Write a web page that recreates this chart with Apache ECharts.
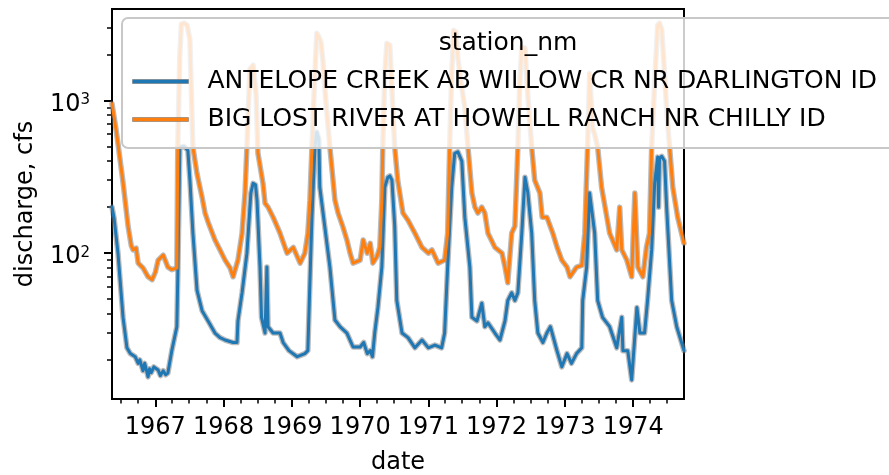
<!DOCTYPE html>
<html>
<head>
<meta charset="utf-8">
<script src="https://cdn.jsdelivr.net/npm/echarts@6/dist/echarts.min.js"></script>
<style>
  html, body { margin: 0; padding: 0; background: #ffffff; }
  #chart { width: 889px; height: 475px; }
</style>
</head>
<body>
<div id="chart"></div>
<script>
// Daily discharge at two Idaho gauging stations, 1966-1974 (log scale)
const FONT = 'DejaVu Sans';

const stationNames = [
  'ANTELOPE CREEK AB WILLOW CR NR DARLINGTON ID',
  'BIG LOST RIVER AT HOWELL RANCH NR CHILLY ID'
];

const antelopeDates = [
  '1966-05-14','1966-05-25','1966-06-15','1966-07-12','1966-08-02','1966-08-20','1966-09-15','1966-10-01',
  '1966-10-10','1966-10-27','1966-11-05','1966-11-10','1966-11-23','1966-12-01','1966-12-10','1966-12-24',
  '1967-01-16','1967-01-28','1967-02-12','1967-02-25','1967-03-09','1967-03-30','1967-04-26','1967-05-01',
  '1967-05-12','1967-06-03','1967-06-24','1967-07-05','1967-07-21','1967-08-12','1967-09-08','1967-10-10',
  '1967-11-16','1967-12-13','1968-01-09','1968-02-21','1968-03-13','1968-03-18','1968-04-09','1968-05-05',
  '1968-05-26','1968-06-07','1968-06-20','1968-06-28','1968-07-14','1968-07-22','1968-08-10','1968-08-20',
  '1968-08-26','1968-09-22','1968-10-29','1968-11-15','1968-12-16','1969-01-29','1969-03-11','1969-03-27',
  '1969-04-07','1969-04-18','1969-05-04','1969-05-14','1969-05-25','1969-05-30','1969-06-26','1969-07-23',
  '1969-08-19','1969-09-15','1969-10-22','1969-11-24','1970-01-01','1970-01-20','1970-02-08','1970-02-24',
  '1970-03-08','1970-03-20','1970-04-06','1970-04-27','1970-05-13','1970-05-29','1970-06-09','1970-06-20',
  '1970-07-05','1970-07-16','1970-08-13','1970-09-14','1970-10-21','1970-11-28','1971-01-01','1971-02-05',
  '1971-03-13','1971-03-29','1971-04-14','1971-05-06','1971-05-22','1971-06-08','1971-06-29','1971-07-15',
  '1971-08-11','1971-08-22','1971-09-18','1971-10-14','1971-10-30','1971-11-16','1971-12-23','1972-01-19',
  '1972-02-15','1972-03-01','1972-03-22','1972-04-08','1972-04-24','1972-05-15','1972-06-01','1972-06-16',
  '1972-07-07','1972-07-23','1972-08-09','1972-09-05','1972-09-26','1972-10-15','1972-11-19','1972-12-15',
  '1973-01-12','1973-02-05','1973-03-04','1973-04-01','1973-04-06','1973-04-27','1973-05-13','1973-05-20',
  '1973-06-09','1973-06-25','1973-07-21','1973-08-28','1973-10-05','1973-11-01','1973-11-07','1973-12-03',
  '1973-12-24','1974-01-21','1974-02-06','1974-03-03','1974-03-19','1974-04-10','1974-04-26','1974-05-12',
  '1974-05-17','1974-05-22','1974-06-03','1974-06-18','1974-06-29','1974-07-26','1974-08-22','1974-09-30'
];
const antelopeCfs = [
  200,170,100,38,24,22,21,19,
  20,17,19,18,15.5,17.5,16.5,18,
  17.2,15.8,17,16,16.4,23,33,70,
  494,500,470,300,135,57,42,36,
  30,28,27,26,26,36,55,100,
  247,286,280,222,81,38,30,81,
  33,30,30,26,23,21,22,23,
  64,172,494,620,560,270,148,81,
  36.5,33,30,24.3,24.3,26,22,23,
  21,30,44,81,270,314,320,300,
  150,49,30,28,24,27,24,25,
  24,30,81,270,450,460,400,172,
  81,38,36,47,33,35,30,27,
  36,49,55,49,55,135,314,250,
  135,49,30,26,30,33,23,18,
  22,19,22,24,49,81,247,250,
  135,49,38,33,24,38,23,23,
  14.8,44,30,30,49,105,286,425,
  200,420,430,400,200,49,33,23
];

const bigLostDates = [
  '1966-05-14','1966-05-25','1966-06-05','1966-06-15','1966-07-12','1966-08-08','1966-08-25','1966-09-04',
  '1966-09-20','1966-10-01','1966-10-27','1966-11-23','1966-12-15','1967-01-01','1967-01-16','1967-02-12',
  '1967-03-09','1967-03-30','1967-04-26','1967-05-01','1967-05-12','1967-05-20','1967-06-05','1967-06-20',
  '1967-07-05','1967-07-14','1967-07-21','1967-08-12','1967-09-08','1967-09-24','1967-10-10','1967-11-16',
  '1967-12-13','1968-01-09','1968-02-05','1968-02-21','1968-03-18','1968-04-09','1968-04-25','1968-05-05',
  '1968-05-21','1968-06-07','1968-06-23','1968-07-03','1968-07-30','1968-08-10','1968-08-26','1968-09-22',
  '1968-10-29','1968-12-06','1969-01-08','1969-01-29','1969-02-14','1969-03-11','1969-03-27','1969-04-07',
  '1969-04-18','1969-05-04','1969-05-14','1969-05-25','1969-06-05','1969-06-16','1969-06-26','1969-07-08',
  '1969-07-23','1969-08-19','1969-09-05','1969-10-01','1969-10-22','1969-11-08','1969-11-24','1970-01-01',
  '1970-01-17','1970-02-08','1970-02-24','1970-03-10','1970-03-20','1970-04-01','1970-04-16','1970-04-27',
  '1970-05-02','1970-05-13','1970-05-24','1970-06-09','1970-06-20','1970-07-05','1970-07-21','1970-08-18',
  '1970-09-14','1970-10-21','1970-11-28','1971-01-01','1971-01-20','1971-02-22','1971-03-29','1971-04-14',
  '1971-04-25','1971-05-06','1971-05-17','1971-05-28','1971-06-08','1971-06-25','1971-07-15','1971-08-01',
  '1971-08-22','1971-09-07','1971-09-23','1971-10-14','1971-10-30','1971-11-16','1971-12-23','1972-01-30',
  '1972-02-15','1972-03-01','1972-03-22','1972-04-08','1972-04-24','1972-05-04','1972-05-15','1972-06-01',
  '1972-06-16','1972-07-07','1972-07-23','1972-08-20','1972-09-01','1972-09-26','1972-10-28','1972-11-19',
  '1972-12-15','1973-01-12','1973-01-28','1973-03-04','1973-04-01','1973-04-17','1973-05-02','1973-05-13',
  '1973-05-29','1973-06-09','1973-06-25','1973-07-16','1973-08-13','1973-08-28','1973-10-05','1973-10-21',
  '1973-11-01','1973-11-28','1973-12-24','1974-01-10','1974-01-26','1974-02-22','1974-03-13','1974-03-29',
  '1974-04-10','1974-04-26','1974-05-12','1974-05-22','1974-06-03','1974-06-18','1974-07-01','1974-07-15',
  '1974-08-01','1974-08-27','1974-09-30'
];
const bigLostCfs = [
  950,780,640,520,290,150,112,105,
  108,86,80,70,67,75,90,97,
  81,78,80,494,2000,3150,3200,3100,
  2500,1000,494,330,232,183,160,122,
  105,90,80,70,90,135,250,494,
  1600,1700,1100,450,286,212,200,172,
  135,100,109,95,86,100,135,222,
  494,1500,2750,2600,2400,1800,1200,800,
  494,222,183,148,122,100,86,90,
  122,100,116,86,86,95,109,222,
  494,1500,2360,2300,1200,494,300,183,
  164,135,109,100,105,86,90,135,
  494,1500,2870,2800,1900,1300,900,494,
  247,200,183,200,183,135,109,100,
  81,64,135,150,494,1300,2230,2200,
  1100,494,300,247,172,172,135,110,
  90,81,70,81,83,135,494,1500,
  660,600,494,270,172,135,105,200,
  105,90,70,247,81,70,109,135,
  494,1300,3100,3200,2900,1500,800,494,
  270,172,116
];

// Tick positions
const yearTicks = ['1967-01-01','1968-01-01','1969-01-01','1970-01-01',
                   '1971-01-01','1972-01-01','1973-01-01','1974-01-01'];
const decadeTicks = [100, 1000];

const quarterTicks = [];
for (let y = 1966; y <= 1974; y++) {
  ['01','04','07','10'].forEach(m => quarterTicks.push(y + '-' + m + '-01'));
}
const logMinorTicks = [];
[10, 100, 1000].forEach(base => {
  for (let k = 2; k <= 9; k++) logMinorTicks.push(k * base);
});

const ms = s => Date.parse(s + 'T00:00:00Z');
const X_MIN = ms('1966-05-14');
const X_MAX = ms('1974-09-30');
const Y_MIN = 11.1;
const Y_MAX = 3960;

const pair = (dates, vals) => dates.map((d, i) => [ms(d), vals[i]]);
const antelope = pair(antelopeDates, antelopeCfs);
const bigLost = pair(bigLostDates, bigLostCfs);

const HALO = 'rgba(120,120,120,0.5)';
function lineSeries(name, data, color, width) {
  return {
    type: 'line', name, data,
    xAxisIndex: 0, yAxisIndex: 0,
    showSymbol: false, symbol: 'none',
    lineStyle: { color, width, cap: 'round', join: 'round' },
    itemStyle: { color },
    emphasis: { disabled: true },
    silent: true,
    animation: false
  };
}

const txt = { fontFamily: FONT, fontSize: 24, color: '#000' };

const chart = echarts.init(document.getElementById('chart'), null, { renderer: 'canvas' });
chart.setOption({
  animation: false,
  backgroundColor: '#ffffff',
  grid: {
    left: 112, right: 205, top: 9, bottom: 76,
    containLabel: false, outerBoundsMode: 'none',
    show: true, borderColor: '#000', borderWidth: 2,
    backgroundColor: 'transparent'
  },
  xAxis: [
    {
      type: 'value', min: X_MIN, max: X_MAX, position: 'bottom', scale: true,
      axisLine: { show: true, onZero: false, lineStyle: { color: '#000', width: 2 } },
      axisTick: { show: true, customValues: yearTicks.map(ms), length: 8, lineStyle: { color: '#000', width: 2 } },
      axisLabel: Object.assign({
        customValues: yearTicks.map(ms), margin: 17, hideOverlap: false,
        formatter: v => String(new Date(v).getUTCFullYear())
      }, txt),
      splitLine: { show: false },
      name: 'date', nameLocation: 'middle', nameGap: 52, nameMoveOverlap: false,
      nameTextStyle: txt
    },
    {
      type: 'value', min: X_MIN, max: X_MAX, position: 'bottom', scale: true,
      axisLine: { show: false, onZero: false },
      axisTick: { show: true, customValues: quarterTicks.map(ms), length: 4.5, lineStyle: { color: '#000', width: 1.5 } },
      axisLabel: { show: false },
      splitLine: { show: false }
    }
  ],
  yAxis: [
    {
      type: 'log', logBase: 10, min: Y_MIN, max: Y_MAX, position: 'left',
      axisLine: { show: true, onZero: false, lineStyle: { color: '#000', width: 2 } },
      axisTick: { show: true, customValues: decadeTicks, length: 8, lineStyle: { color: '#000', width: 2 } },
      axisLabel: {
        customValues: decadeTicks, margin: 22, padding: [8, 0, 0, 0],
        formatter: v => '{b|10}{s|' + Math.round(Math.log10(v)) + '}',
        rich: {
          b: { fontFamily: FONT, fontSize: 24, color: '#000' },
          s: { fontFamily: FONT, fontSize: 15, color: '#000', verticalAlign: 'top' }
        }
      },
      splitLine: { show: false },
      minorTick: { show: false },
      name: 'discharge, cfs', nameLocation: 'middle', nameGap: 74, nameRotate: 90,
      nameMoveOverlap: false,
      nameTextStyle: txt
    },
    {
      type: 'log', logBase: 10, min: Y_MIN, max: Y_MAX, position: 'left',
      axisLine: { show: false, onZero: false },
      axisTick: { show: true, customValues: logMinorTicks, length: 5, lineStyle: { color: '#000', width: 1.5 } },
      axisLabel: { show: false },
      splitLine: { show: false }
    }
  ],
  legend: {
    data: stationNames,
    orient: 'vertical',
    left: 122, top: 18,
    padding: [50, 30, 15, 10],
    itemWidth: 56, itemHeight: 4, itemGap: 11,
    icon: 'rect',
    backgroundColor: 'rgba(255,255,255,0.8)',
    borderColor: '#c8c8c8', borderWidth: 2, borderRadius: 6,
    selectedMode: false,
    itemStyle: { borderColor: 'rgba(120,120,120,0.6)', borderWidth: 1 },
    textStyle: { fontFamily: FONT, fontSize: 25, color: '#000', lineHeight: 27, padding: [0, 0, 0, 14] }
  },
  graphic: [
    {
      type: 'text', x: 508, y: 43, z: 100,
      style: { text: 'station_nm', fill: '#000', font: '25px "DejaVu Sans"', align: 'center', verticalAlign: 'middle' }
    }
  ],
  series: [
    lineSeries('ANTELOPE outline', antelope, HALO, 5.5),
    lineSeries(stationNames[0], antelope, '#1f77b4', 3),
    lineSeries('BIG LOST outline', bigLost, HALO, 5.5),
    lineSeries(stationNames[1], bigLost, '#ff7f0e', 3)
  ]
});
</script>
</body>
</html>
